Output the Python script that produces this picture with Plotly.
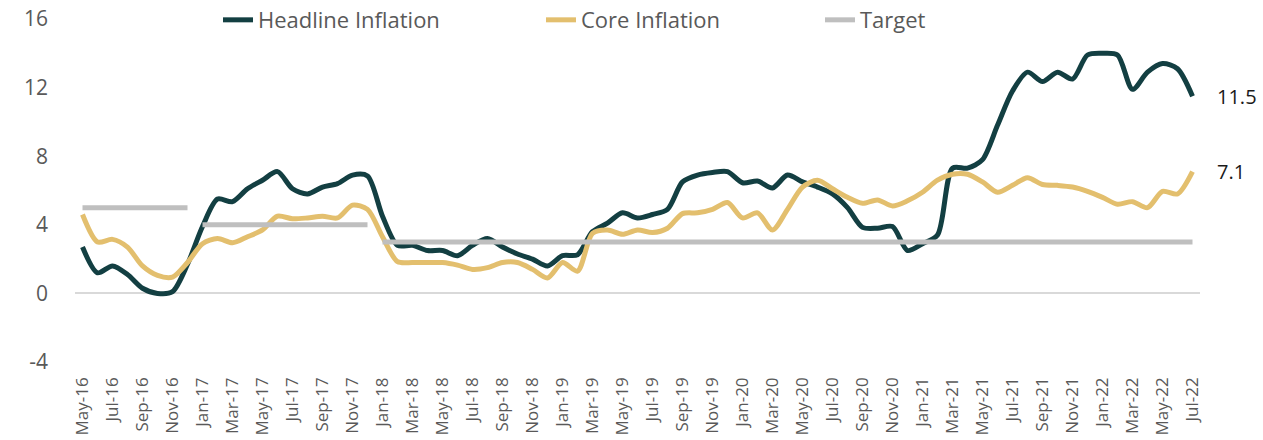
import plotly.graph_objects as go

months = ["May-16","Jun-16","Jul-16","Aug-16","Sep-16","Oct-16","Nov-16","Dec-16",
          "Jan-17","Feb-17","Mar-17","Apr-17","May-17","Jun-17","Jul-17","Aug-17","Sep-17","Oct-17","Nov-17","Dec-17",
          "Jan-18","Feb-18","Mar-18","Apr-18","May-18","Jun-18","Jul-18","Aug-18","Sep-18","Oct-18","Nov-18","Dec-18",
          "Jan-19","Feb-19","Mar-19","Apr-19","May-19","Jun-19","Jul-19","Aug-19","Sep-19","Oct-19","Nov-19","Dec-19",
          "Jan-20","Feb-20","Mar-20","Apr-20","May-20","Jun-20","Jul-20","Aug-20","Sep-20","Oct-20","Nov-20","Dec-20",
          "Jan-21","Feb-21","Mar-21","Apr-21","May-21","Jun-21","Jul-21","Aug-21","Sep-21","Oct-21","Nov-21","Dec-21",
          "Jan-22","Feb-22","Mar-22","Apr-22","May-22","Jun-22","Jul-22"]

headline = [2.7, 1.2, 1.6, 1.1, 0.3, 0.0, 0.1, 1.7,
            3.9, 5.5, 5.35, 6.1, 6.6, 7.1, 6.1, 5.8, 6.2, 6.4, 6.9, 6.85,
            4.5, 2.8, 2.8, 2.5, 2.5, 2.2, 2.8, 3.2, 2.7, 2.3, 2.0, 1.6,
            2.2, 2.25, 3.6, 4.1, 4.7, 4.4, 4.6, 4.9, 6.5, 6.9, 7.05, 7.1,
            6.45, 6.55, 6.15, 6.9, 6.5, 6.2, 5.8, 5.0, 3.85, 3.8, 3.9, 2.5,
            2.9, 3.4, 7.3, 7.3, 7.8, 9.8, 11.8, 12.9, 12.35, 12.9, 12.5, 13.9,
            14.0, 13.9, 11.9, 12.9, 13.4, 13.1, 11.5]

core = [4.6, 3.0, 3.15, 2.7, 1.6, 1.05, 0.95, 1.8,
        2.9, 3.2, 2.95, 3.3, 3.7, 4.5, 4.35, 4.4, 4.5, 4.4, 5.15, 4.9,
        3.3, 1.85, 1.8, 1.8, 1.8, 1.65, 1.4, 1.5, 1.8, 1.8, 1.4, 0.9,
        1.8, 1.3, 3.5, 3.7, 3.45, 3.7, 3.55, 3.8, 4.65, 4.7, 4.9, 5.3,
        4.4, 4.7, 3.7, 4.9, 6.2, 6.6, 6.1, 5.6, 5.25, 5.45, 5.1, 5.4,
        5.9, 6.6, 6.95, 6.95, 6.5, 5.9, 6.3, 6.75, 6.35, 6.3, 6.2, 5.95,
        5.6, 5.2, 5.35, 5.0, 5.95, 5.8, 7.1]

target = [5]*8 + [4]*12 + [3]*55

tick_labels = months[::2]
y_ticks = [-4, 0, 4, 8, 12, 16]
y_tick_labels = ["-4", "0", "4", "8", "12", "16"]

# Build target with breaks where the target level changes
tx, ty = [], []
for i, v in enumerate(target):
    if i > 0 and v != target[i-1]:
        tx.append(i - 0.5)
        ty.append(None)
    tx.append(i)
    ty.append(v)

xs = list(range(len(months)))

fig = go.Figure()
fig.add_trace(go.Scatter(x=xs, y=headline, mode="lines", name="Headline Inflation", legend="legend",
                         line=dict(color="#133F42", width=5, shape="spline", smoothing=0.8)))
fig.add_trace(go.Scatter(x=xs, y=core, mode="lines", name="Core Inflation", legend="legend2",
                         line=dict(color="#E3BF6E", width=5, shape="spline", smoothing=0.8)))
fig.add_trace(go.Scatter(x=tx, y=ty, mode="lines", name="Target", connectgaps=False, legend="legend3",
                         line=dict(color="#BFBFBF", width=5)))

font_family = "Open Sans"
fig.add_annotation(x=xs[-1], y=headline[-1], text=f"{headline[-1]:.1f}", showarrow=False,
                   xanchor="left", xshift=22, font=dict(family=font_family, size=20, color="#1a1a1a"))
fig.add_annotation(x=xs[-1], y=core[-1], text=f"{core[-1]:.1f}", showarrow=False,
                   xanchor="left", xshift=22, font=dict(family=font_family, size=20, color="#1a1a1a"))

leg_common = dict(orientation="h", y=0.997, yanchor="middle", xanchor="left",
                  font=dict(family=font_family, size=22, color="#595959"),
                  bgcolor="rgba(0,0,0,0)", itemwidth=30)

fig.update_layout(
    width=1263, height=440,
    margin=dict(l=75, r=63, t=19, b=78, autoexpand=False),
    paper_bgcolor="white", plot_bgcolor="white",
    font=dict(family=font_family, color="#595959"),
    showlegend=True,
    legend=dict(x=0.1271, **leg_common),
    legend2=dict(x=0.4142, **leg_common),
    legend3=dict(x=0.6622, **leg_common),
)
fig.update_xaxes(range=[-0.5, len(months) - 0.5], tickmode="array",
                 tickvals=xs[::2], ticktext=tick_labels, tickangle=-90,
                 tickfont=dict(size=17, color="#595959"), showgrid=False,
                 zeroline=False, showline=False, ticks="", ticklabelstandoff=11)
fig.update_yaxes(range=[-4, 16], tickmode="array", tickvals=y_ticks, ticktext=y_tick_labels,
                 tickfont=dict(size=21, color="#595959"), showgrid=False,
                 zeroline=True, zerolinecolor="#D9D9D9", zerolinewidth=2,
                 showline=False, ticks="", ticklabelstandoff=26, ticklabeloverflow="allow")

fig.write_html("out.html", config={"displayModeBar": False},
               post_script="document.body.style.margin='0px';")
